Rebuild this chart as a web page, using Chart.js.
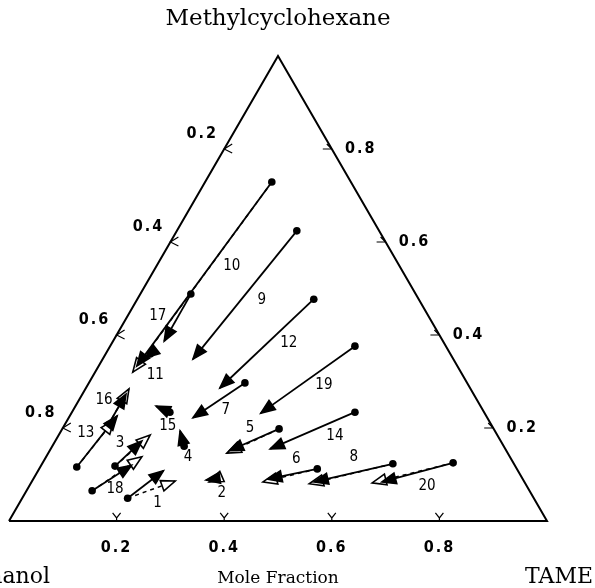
<!DOCTYPE html>
<html>
<head>
<meta charset="utf-8">
<script src="https://cdn.jsdelivr.net/npm/chart.js@4.4.0/dist/chart.umd.min.js"></script>
<style>
  html, body { margin: 0; padding: 0; background: #fff; }
  #wrap { width: 595px; height: 588px; }
</style>
</head>
<body>
<div id="wrap"><canvas id="ternary" width="595" height="588"></canvas></div>
<script>
// Run numbers
const runLabels = ['1', '2', '3', '4', '5', '6', '7', '8', '9', '10',
                   '11', '12', '13', '14', '15', '16', '17', '18', '19', '20'];

// Feed composition (mole fraction) - filled dots
const startMCH  = [0.049, 0.092, 0.118, 0.161, 0.198, 0.112, 0.297, 0.123, 0.624, 0.729,
                   0.359, 0.477, 0.116, 0.234, 0.234, 0.206, 0.488, 0.065, 0.376, 0.125];
const startTAME = [0.196, 0.342, 0.138, 0.245, 0.403, 0.517, 0.290, 0.652, 0.223, 0.124,
                   0.083, 0.328, 0.068, 0.526, 0.182, 0.081, 0.094, 0.122, 0.455, 0.763];

// Experimental end point (solid line, filled head)
const expMCH  = [0.108, 0.088, 0.172, 0.194, 0.151, 0.090, 0.222, 0.084, 0.348, 0.333,
                 0.351, 0.286, 0.226, 0.155, 0.247, 0.273, 0.387, 0.120, 0.232, 0.084];
const expTAME = [0.233, 0.322, 0.161, 0.221, 0.334, 0.436, 0.231, 0.525, 0.168, 0.071,
                 0.078, 0.249, 0.088, 0.408, 0.150, 0.081, 0.095, 0.168, 0.352, 0.651];

// Calculated end point (dashed line, open head); null where it is hidden
const calcMCH  = [0.086, 0.084, 0.185, null, 0.146, 0.084, null, 0.080, null, 0.320,
                  null, null, 0.217, null, null, 0.284, null, 0.138, null, 0.082];
const calcTAME = [0.266, 0.330, 0.170, null, 0.332, 0.430, null, 0.518, null, 0.070,
                  null, null, 0.087, null, null, 0.081, null, 0.178, null, 0.634];

const axisTicks = [0.2, 0.4, 0.6, 0.8];

// ternary -> cartesian (TAME to the right, methylcyclohexane up)
const H = Math.sqrt(3) / 2;
function toXY(mch, tame) {
    return { x: tame + mch / 2, y: mch * H };
}

const datasets = [];

// triangle frame
datasets.push({
    type: 'line',
    data: [toXY(0, 0), toXY(0, 1), toXY(1, 0), toXY(0, 0)],
    borderColor: '#000', borderWidth: 2, pointRadius: 0, fill: false
});

// calculated paths (dashed)
runLabels.forEach((lab, i) => {
    if (calcMCH[i] === null) return;
    datasets.push({
        type: 'line', role: 'calc',
        data: [toXY(startMCH[i], startTAME[i]), toXY(calcMCH[i], calcTAME[i])],
        borderColor: '#000', borderWidth: 1.5, borderDash: [4, 4], pointRadius: 0
    });
});

// experimental paths (solid)
runLabels.forEach((lab, i) => {
    datasets.push({
        type: 'line', role: 'exp',
        data: [toXY(startMCH[i], startTAME[i]), toXY(expMCH[i], expTAME[i])],
        borderColor: '#000', borderWidth: 1.8, pointRadius: 0
    });
});

// feed points
datasets.push({
    type: 'scatter',
    data: runLabels.map((lab, i) => toXY(startMCH[i], startTAME[i])),
    pointRadius: 3.8, pointBackgroundColor: '#000', pointBorderColor: '#000', pointBorderWidth: 0
});

// label placement relative to the feed dot (pixels)
const labelOffset = [[30, 5], [4, 15], [5, -23], [4, 11], [-29, -1], [-21, -10], [-19, 27], [-39, -7],
                     [-35, 69], [-40, 84], [5, 21], [-25, 44], [9, -34], [-20, 24], [-2, 14], [-4, -25],
                     [-33, 22], [23, -2], [-31, 39], [-26, 23]];

function drawHead(ctx, from, to, filled) {
    const ang = Math.atan2(to[1] - from[1], to[0] - from[0]);
    const len = 14, w = 5.5;
    ctx.save();
    ctx.translate(to[0], to[1]);
    ctx.rotate(ang);
    ctx.beginPath();
    ctx.moveTo(0, 0);
    ctx.lineTo(-len, -w);
    ctx.lineTo(-len, w);
    ctx.closePath();
    ctx.fillStyle = filled ? '#000' : '#fff';
    ctx.fill();
    ctx.lineWidth = 1.6;
    ctx.strokeStyle = '#000';
    ctx.stroke();
    ctx.restore();
}

const ternaryDecor = {
    id: 'ternaryDecor',
    afterDatasetsDraw(chart) {
        const ctx = chart.ctx;
        const sx = chart.scales.x, sy = chart.scales.y;
        const pix = p => [sx.getPixelForValue(p.x), sy.getPixelForValue(p.y)];

        // arrow heads: open first, filled on top
        ['calc', 'exp'].forEach(role => {
            chart.data.datasets.forEach(ds => {
                if (ds.role !== role) return;
                drawHead(ctx, pix(ds.data[0]), pix(ds.data[1]), role === 'exp');
            });
        });

        // axis tick marks and labels
        ctx.save();
        ctx.strokeStyle = '#000';
        ctx.lineWidth = 1.2;
        ctx.fillStyle = '#000';
        ctx.font = 'bold 16px "Liberation Sans Narrow", "DejaVu Sans Condensed", sans-serif';
        ctx.letterSpacing = '2px';
        ctx.textAlign = 'center';
        ctx.textBaseline = 'middle';
        axisTicks.forEach(v => {
            const txt = v.toFixed(1);
            // bottom: TAME
            let [x, y] = pix(toXY(0, v));
            ctx.beginPath();
            ctx.moveTo(x - 4, y - 8); ctx.lineTo(x, y - 3); ctx.lineTo(x + 4, y - 8);
            ctx.moveTo(x, y - 3); ctx.lineTo(x, y);
            ctx.stroke();
            ctx.fillText(txt, x, y + 27);
            // left: ethanol
            [x, y] = pix(toXY(1 - v, 0));
            ctx.beginPath();
            ctx.moveTo(x + 8, y - 5); ctx.lineTo(x, y); ctx.lineTo(x + 8, y + 4);
            ctx.stroke();
            ctx.fillText(txt, x - 22, y - 15);
            // right: methylcyclohexane
            [x, y] = pix(toXY(v, 1 - v));
            ctx.beginPath();
            ctx.moveTo(x - 9, y); ctx.lineTo(x, y);
            ctx.moveTo(x - 5, y - 5); ctx.lineTo(x, y);
            ctx.stroke();
            ctx.fillText(txt, x + 29, y);
        });

        // run numbers
        ctx.font = '15px "Liberation Sans Narrow", "DejaVu Sans Condensed", sans-serif';
        ctx.letterSpacing = '0px';
        runLabels.forEach((lab, i) => {
            const [x, y] = pix(toXY(startMCH[i], startTAME[i]));
            ctx.fillText(lab, x + labelOffset[i][0], y + labelOffset[i][1]);
        });

        // component names
        ctx.textBaseline = 'alphabetic';
        ctx.font = '23px "DejaVu Serif", serif';
        const [ax] = pix(toXY(1, 0));
        ctx.fillText('Methylcyclohexane', ax, 25);
        ctx.font = '22px "DejaVu Serif", serif';
        ctx.textAlign = 'right';
        ctx.fillText('TAME', 593, 583);
        ctx.fillText('Ethanol', 50, 583);
        ctx.textAlign = 'center';
        ctx.font = '17px "DejaVu Serif", serif';
        ctx.fillText('Mole Fraction', ax, 583);
        ctx.restore();
    }
};

new Chart(document.getElementById('ternary'), {
    type: 'scatter',
    data: { datasets: datasets },
    options: {
        responsive: false,
        animation: false,
        layout: { padding: 0, autoPadding: false },
        plugins: { legend: { display: false }, tooltip: { enabled: false } },
        scales: {
            x: { type: 'linear', display: false, min: -0.016729, max: 1.08922 },
            y: { type: 'linear', display: false, min: -0.12479, max: 0.97030 }
        }
    },
    plugins: [ternaryDecor]
});
</script>
</body>
</html>
